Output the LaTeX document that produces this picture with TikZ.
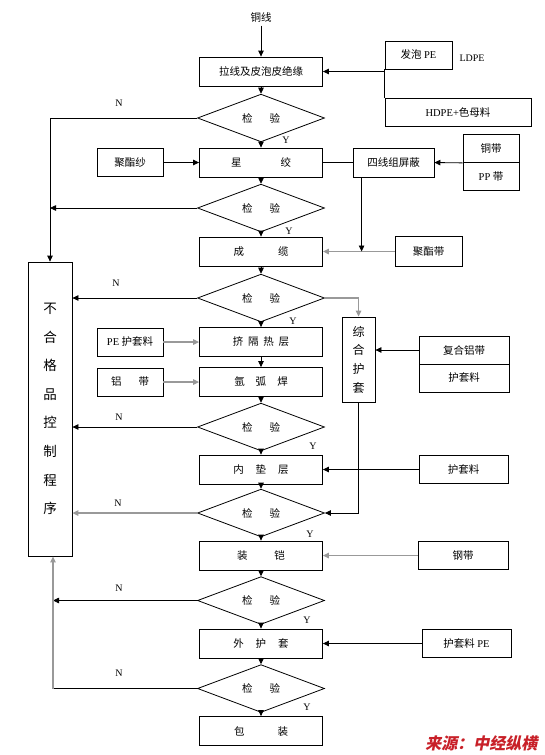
\documentclass[tikz,border=0pt]{standalone}
\usepackage{fontspec}
\setmainfont{Noto Sans CJK SC}
\newfontfamily\latf{Liberation Serif}
\newfontfamily\wmfont[FakeSlant=0.2]{Noto Sans CJK SC}
\usepackage{xcolor}
\usetikzlibrary{shapes.geometric,positioning,calc,arrows.meta}
\definecolor{wmred}{RGB}{200,32,40}
\newcommand\lat[1]{{\latf #1}}
\tikzset{
    proc-box/.style={
        rectangle,
        draw=black,
        minimum width=123pt,
        minimum height=29pt,
        inner sep=0pt,
        font=\fontsize{10.5}{12}\selectfont
    },
    feed-box/.style={
        rectangle,
        draw=black,
        minimum height=28pt,
        inner sep=0pt,
        font=\fontsize{10.5}{12}\selectfont
    },
    check-point/.style={
        diamond,
        draw=black,
        minimum width=127pt,
        minimum height=38pt,
        inner sep=0pt,
        font=\fontsize{10.5}{12}\selectfont
    },
    yn-label/.style={
        font=\latf\fontsize{10}{12}\selectfont
    },
    every edge/.style={
        draw
    },
    grey-line/.style={
        draw=black!40,
        line width=1.3pt
    },
}

\begin{document}
\begin{tikzpicture}[x=1pt,y=-1pt,line width=0.8pt,>={Triangle[length=6pt,width=5.5pt]}]
       \useasboundingbox (0,0) rectangle (545,755);

       % main column
       \node (tx) at (261,17) {\fontsize{10.5}{12}\selectfont 铜线};
       \node[proc-box] (ls) at (261,71.5) {拉线及皮泡皮绝缘};
       \node[check-point] (d1) at (261,118) {检\hspace{17pt}验};
       \node[proc-box] (xj) at (261,162.5) {星\hspace{39pt}绞};
       \node[check-point] (d2) at (261,208) {检\hspace{17pt}验};
       \node[proc-box] (cl) at (261,251.5) {成\hspace{34pt}缆};
       \node[check-point] (d3) at (261,298) {检\hspace{17pt}验};
       \node[proc-box] (jg) at (261,342) {挤\hspace{4.8pt}隔\hspace{4.8pt}热\hspace{4.8pt}层};
       \node[proc-box] (hh) at (261,382) {氩\hspace{11pt}弧\hspace{11pt}焊};
       \node[check-point] (d4) at (261,427) {检\hspace{17pt}验};
       \node[proc-box] (nd) at (261,469.5) {内\hspace{12pt}垫\hspace{12pt}层};
       \node[check-point] (d5) at (261,513) {检\hspace{17pt}验};
       \node[proc-box] (zk) at (261,555.5) {装\hspace{27pt}铠};
       \node[check-point] (d6) at (261,600.5) {检\hspace{17pt}验};
       \node[proc-box] (wh) at (261,643.5) {外\hspace{12pt}护\hspace{12pt}套};
       \node[check-point] (d7) at (261,688.5) {检\hspace{17pt}验};
       \node[proc-box] (bz) at (261,731) {包\hspace{33pt}装};

       % left side
       \node[rectangle,draw=black,minimum width=44pt,minimum height=294pt,inner sep=0pt,align=center,
             font=\fontsize{13.5}{28.6}\selectfont] (ctrl) at (50,409) {不\\合\\格\\品\\控\\制\\程\\序};
       \coordinate (ret) at ($(ctrl.south)+(3,0)$);
       \node[feed-box,minimum width=66pt] (jzs) at (130,162.5) {聚酯纱};
       \node[feed-box,minimum width=66pt] (pe) at (130,342) {\lat{PE} 护套料};
       \node[feed-box,minimum width=66pt] (lv) at (130,382) {铝\hspace{17pt}带};

       % right side
       \node[feed-box,minimum width=67pt] (fp) at (418.5,55) {发泡 \lat{PE}};
       \node[yn-label] (ldpe) at (472,58) {LDPE};
       \node[feed-box,minimum width=146pt] (hd) at (458,112) {\lat{HDPE+}色母料};
       \node[feed-box,minimum width=81pt,minimum height=29pt] (sx) at (393.5,162.5) {四线组屏蔽};
       \node[feed-box,minimum width=56pt] (td) at (491,148.5) {铜带};
       \node[feed-box,minimum width=56pt] (pp) at (491,176.5) {\lat{PP} 带};
       \node[feed-box,minimum width=67pt,minimum height=30pt] (jzd) at (428.5,251.5) {聚酯带};
       \node[rectangle,draw=black,minimum width=33pt,minimum height=85pt,inner sep=0pt,align=center,
             font=\fontsize{12}{18.7}\selectfont] (zh) at (358.5,359.5) {综\\合\\护\\套};
       \node[feed-box,minimum width=90pt] (fh) at (464,350) {复合铝带};
       \node[feed-box,minimum width=90pt] (hl) at (464,378) {护套料};
       \node[feed-box,minimum width=89pt] (hl2) at (463.5,469.5) {护套料};
       \node[feed-box,minimum width=90pt] (gd) at (463,555.5) {钢带};
       \node[feed-box,minimum width=89pt] (hpe) at (466.5,643.5) {护套料 \lat{PE}};

       % N / Y
       \node[yn-label] (n1) at (119,103) {N};
       \node[yn-label] (n3) at (116,283) {N};
       \node[yn-label] (n4) at (119,417) {N};
       \node[yn-label] (n5) at (118,503) {N};
       \node[yn-label] (n6) at (119,588) {N};
       \node[yn-label] (n7) at (119,673) {N};
       \node[yn-label] (y1) at (286,140) {Y};
       \node[yn-label] (y2) at (289,231) {Y};
       \node[yn-label] (y3) at (293,321) {Y};
       \node[yn-label] (y4) at (313,446) {Y};
       \node[yn-label] (y5) at (310,534) {Y};
       \node[yn-label] (y6) at (307,620) {Y};
       \node[yn-label] (y7) at (307,707) {Y};

       \node[anchor=east,text=wmred,font=\wmfont\bfseries\fontsize{16}{16}\selectfont] (src) at (541,743) {来源：中经纵横};

       % flow
       \draw (tx) edge[->] (ls);
       \draw (ls) edge[->] (d1);
       \draw (d1) edge[->] (xj);
       \draw (xj) edge[->] (d2);
       \draw (d2) edge[->] (cl);
       \draw (cl) edge[->] (d3);
       \draw (d3) edge[->] (jg);
       \draw (jg) edge[->] (hh);
       \draw (hh) edge[->] (d4);
       \draw (d4) edge[->] (nd);
       \draw (nd) edge[->] (d5);
       \draw (d5) edge[->] (zk);
       \draw (zk) edge[->] (d6);
       \draw (d6) edge[->] (wh);
       \draw (wh) edge[->] (d7);
       \draw (d7) edge[->] (bz);

       % rejects
       \draw[->] (d1.west) -| (ctrl.north);
       \draw[->] (d2.west) -- (d2.west -| ctrl.north);
       \draw[->] (d3.west) -- (d3.west -| ctrl.east);
       \draw[->] (d4.west) -- (d4.west -| ctrl.east);
       \draw[->,grey-line] (d5.west) -- (d5.west -| ctrl.east);
       \draw[->] (d6.west) -- (d6.west -| ret);
       \draw (d7.west) -- (d7.west -| ret);
       \draw[->,grey-line] (d7.west -| ret) -- (ret);

       % materials
       \coordinate (fpjoin) at (fp.south west |- ls.east);
       \draw (fp.south west) -- (hd.north west);
       \draw (fpjoin) edge[->] (ls.east);
       \draw (jzs) edge[->] (xj);
       \draw (xj) edge (sx);
       \draw (td.south west) edge[->] (sx.east);
       \coordinate (sxdrop) at ($(sx.south west)+(9,0)$);
       \draw (jzd) edge[->,grey-line] (cl);
       \draw[->] (sxdrop) -- (sxdrop |- cl.east);
       \draw[->,grey-line] (d3.east) -| (zh.north);
       \draw (pe) edge[->,grey-line] (jg);
       \draw (lv) edge[->,grey-line] (hh);
       \draw[->] (fh.west) -- (fh.west -| zh.east);
       \draw (hl2) edge[->] (nd);
       \draw[->] (zh.south) |- (d5.east);
       \draw (gd) edge[->,grey-line] (zk);
       \draw (hpe) edge[->] (wh);
   \end{tikzpicture}
\end{document}
